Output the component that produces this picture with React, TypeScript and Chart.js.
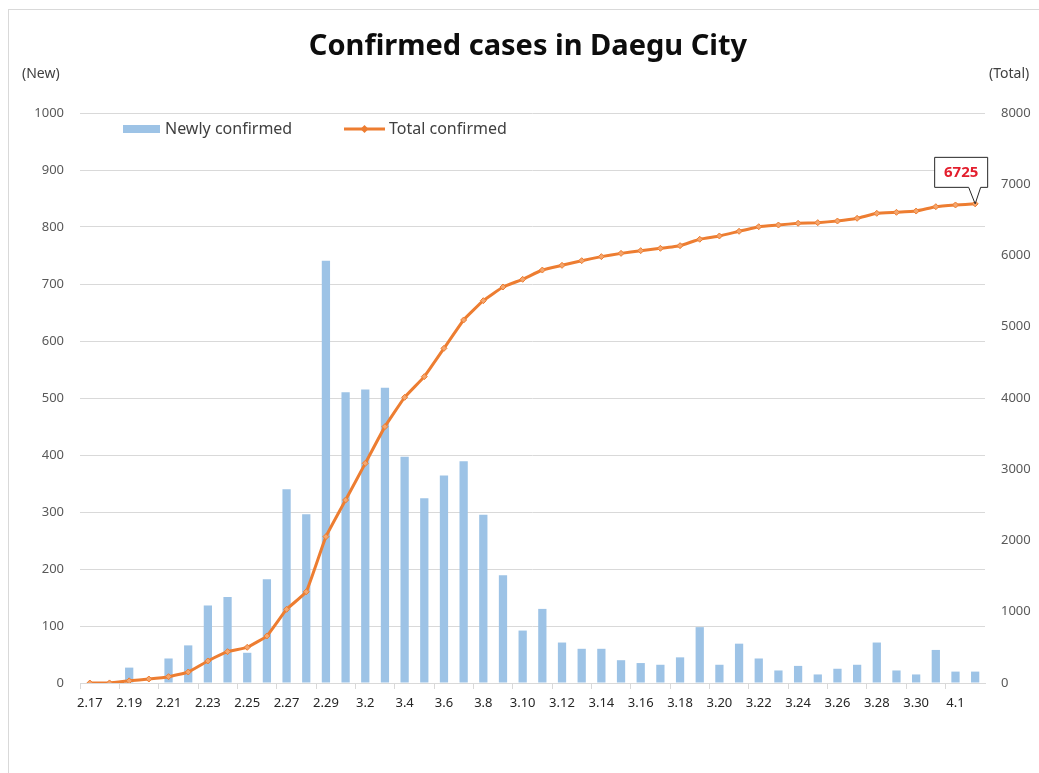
import React, { useEffect, useRef } from 'react';
import { Chart, registerables } from 'chart.js';

Chart.register(...registerables);

const dateLabels = [
  '2.17', '2.18', '2.19', '2.20', '2.21', '2.22', '2.23', '2.24', '2.25', '2.26', '2.27', '2.28', '2.29',
  '3.1', '3.2', '3.3', '3.4', '3.5', '3.6', '3.7', '3.8', '3.9', '3.10', '3.11', '3.12', '3.13', '3.14',
  '3.15', '3.16', '3.17', '3.18', '3.19', '3.20', '3.21', '3.22', '3.23', '3.24', '3.25', '3.26', '3.27',
  '3.28', '3.29', '3.30', '3.31', '4.1', '4.2',
];

const newlyConfirmed = [
  0, 1, 27, 0, 43, 66, 136, 151, 53, 182, 340, 296, 741,
  510, 515, 518, 397, 324, 364, 389, 295, 189, 92, 130, 71, 60, 60,
  40, 35, 32, 45, 98, 32, 69, 43, 22, 30, 15, 25, 32,
  71, 22, 15, 58, 20, 20,
];

const totalConfirmed = [
  0, 1, 30, 56, 89, 154, 309, 440, 501, 660, 1034, 1280, 2054,
  2568, 3083, 3598, 4009, 4300, 4697, 5095, 5366, 5558, 5666, 5796, 5862, 5927, 5984,
  6030, 6068, 6101, 6138, 6228, 6274, 6340, 6404, 6428, 6452, 6461, 6484, 6522,
  6592, 6606, 6624, 6685, 6709, 6725,
];

const calloutIndex = totalConfirmed.length - 1;

const FONT = '"Noto Sans", "Open Sans", sans-serif';
const BAR_COLOR = '#9dc3e6';
const LINE_COLOR = '#ed7d31';
const GRID = '#d9d9d9';

const overlayPlugin = {
  id: 'overlay',
  afterDatasetsDraw(chart: any) {
    const ctx = chart.ctx;
    const area = chart.chartArea;
    ctx.save();
    // legend
    const ly = area.top + 16;
    ctx.fillStyle = BAR_COLOR;
    ctx.fillRect(123, ly - 4, 37, 8);
    ctx.font = `16px ${FONT}`;
    ctx.fillStyle = '#404040';
    ctx.textBaseline = 'middle';
    ctx.textAlign = 'left';
    ctx.fillText('Newly confirmed', 165, ly);
    ctx.strokeStyle = LINE_COLOR;
    ctx.lineWidth = 3;
    ctx.beginPath();
    ctx.moveTo(344, ly);
    ctx.lineTo(385, ly);
    ctx.stroke();
    ctx.fillStyle = LINE_COLOR;
    ctx.beginPath();
    ctx.moveTo(364.5, ly - 4);
    ctx.lineTo(368.5, ly);
    ctx.lineTo(364.5, ly + 4);
    ctx.lineTo(360.5, ly);
    ctx.closePath();
    ctx.fill();
    ctx.fillStyle = '#404040';
    ctx.fillText('Total confirmed', 389, ly);

    // callout
    const meta = chart.getDatasetMeta(1);
    const pt = meta.data[calloutIndex];
    if (pt) {
      const px = pt.x;
      const py = pt.y;
      const bx = px - 41;
      const by = py - 47;
      const bw = 53;
      const bh = 30;
      ctx.fillStyle = '#ffffff';
      ctx.strokeStyle = '#262626';
      ctx.lineWidth = 1;
      ctx.beginPath();
      ctx.moveTo(bx + 0.5, by + 0.5);
      ctx.lineTo(bx + bw + 0.5, by + 0.5);
      ctx.lineTo(bx + bw + 0.5, by + bh + 0.5);
      ctx.lineTo(px + 5.5, by + bh + 0.5);
      ctx.lineTo(px, py);
      ctx.lineTo(px - 6.5, by + bh + 0.5);
      ctx.lineTo(bx + 0.5, by + bh + 0.5);
      ctx.closePath();
      ctx.fill();
      ctx.stroke();
      ctx.fillStyle = '#e31e2d';
      ctx.font = `bold 15px ${FONT}`;
      ctx.textAlign = 'center';
      ctx.textBaseline = 'middle';
      ctx.fillText(String(totalConfirmed[calloutIndex]), bx + bw / 2 + 0.5, by + bh / 2 + 1);
    }
    ctx.restore();
  },
};

export default function App() {
  const canvasRef = useRef<HTMLCanvasElement | null>(null);

  useEffect(() => {
    if (!canvasRef.current) return;
    const chart = new Chart(canvasRef.current, {
      data: {
        labels: dateLabels,
        datasets: [
          {
            type: 'bar',
            label: 'Newly confirmed',
            data: newlyConfirmed,
            backgroundColor: BAR_COLOR,
            yAxisID: 'y',
            barPercentage: 0.42,
            categoryPercentage: 1,
            order: 2,
          },
          {
            type: 'line',
            label: 'Total confirmed',
            data: totalConfirmed,
            borderColor: LINE_COLOR,
            borderWidth: 3,
            backgroundColor: '#f4a66e',
            pointStyle: 'rectRot',
            pointRadius: 3,
            pointBorderColor: LINE_COLOR,
            pointBorderWidth: 1,
            tension: 0.1,
            yAxisID: 'y1',
            order: 1,
          },
        ],
      } as any,
      options: {
        animation: false,
        responsive: true,
        maintainAspectRatio: false,
        layout: { padding: { top: 113, left: 0, right: 0, bottom: 0 } },
        plugins: {
          legend: { display: false },
          tooltip: { enabled: false },
          title: { display: false },
        },
        scales: {
          x: {
            type: 'category',
            offset: true,
            grid: {
              display: true,
              drawOnChartArea: false,
              drawTicks: true,
              tickLength: 6,
              color: (c: any) => (c.index % 2 === 0 ? GRID : 'rgba(0,0,0,0)'),
            },
            border: { display: true, color: GRID },
            ticks: {
              autoSkip: false,
              maxRotation: 0,
              minRotation: 0,
              padding: 6,
              color: '#262626',
              font: { family: FONT, size: 13 },
              callback: (_v: any, i: number) => (i % 2 === 0 ? dateLabels[i] : ''),
            },
            afterFit: (s: any) => {
              s.height = 90;
            },
          },
          y: {
            position: 'left',
            min: 0,
            max: 1000,
            ticks: {
              stepSize: 100,
              padding: 16,
              color: '#595959',
              font: { family: FONT, size: 13 },
              callback: (v: any) => String(v),
            },
            grid: { color: GRID, drawTicks: false, lineWidth: 1 },
            border: { display: false },
            afterFit: (s: any) => {
              s.width = 80;
            },
          },
          y1: {
            position: 'right',
            min: 0,
            max: 8000,
            ticks: {
              stepSize: 1000,
              padding: 16,
              color: '#595959',
              font: { family: FONT, size: 13 },
              callback: (v: any) => String(v),
            },
            grid: { drawOnChartArea: false, drawTicks: false },
            border: { display: false },
            afterFit: (s: any) => {
              s.width = 54;
            },
          },
        },
      } as any,
      plugins: [overlayPlugin],
    });
    return () => chart.destroy();
  }, []);

  return (
    <div style={{ position: 'absolute', left: 0, top: 0, width: 1039, height: 773, background: '#ffffff', overflow: 'hidden' }}>
      <div style={{ position: 'absolute', left: 8, top: 9, right: 0, bottom: 0, borderLeft: '1px solid #d9d9d9', borderTop: '1px solid #d9d9d9' }} />
      <div style={{ position: 'absolute', left: 0, top: 0, width: 1039, height: 773 }}>
        <canvas ref={canvasRef} />
      </div>
      <div style={{ position: 'absolute', left: 0, width: 1056, top: 24, textAlign: 'center', fontFamily: FONT, fontWeight: 700, fontSize: 29, color: '#0d0d0d', lineHeight: '40px', pointerEvents: 'none' }}>
        Confirmed cases in Daegu City
      </div>
      <div style={{ position: 'absolute', left: 22, top: 64, fontFamily: FONT, fontSize: 14, color: '#404040', lineHeight: '18px' }}>(New)</div>
      <div style={{ position: 'absolute', left: 989, top: 64, fontFamily: FONT, fontSize: 14, color: '#404040', lineHeight: '18px' }}>(Total)</div>
    </div>
  );
}
